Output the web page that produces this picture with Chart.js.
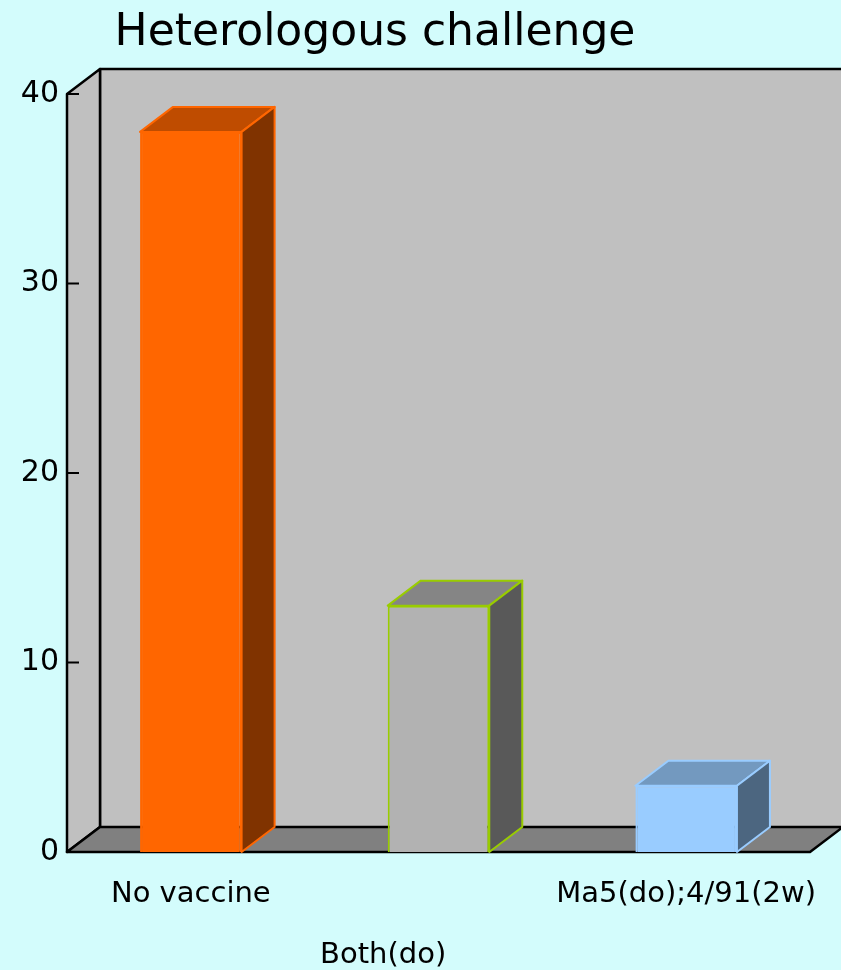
<!DOCTYPE html>
<html lang="en">
<head>
  <meta charset="UTF-8" />
  <title>Heterologous challenge</title>
  <script src="https://cdn.jsdelivr.net/npm/chart.js"></script>
  <style>
    html, body {
      margin: 0;
      padding: 0;
      background: #d3fcfc;
    }
    #wrap {
      width: 841px;
      height: 970px;
    }
  </style>
</head>
<body>
  <div id="wrap">
    <canvas id="chart"></canvas>
  </div>

  <script>
    const categories = ['No vaccine', 'Both(do)', 'Ma5(do);4/91(2w)'];
    const values = [38, 13, 3.5];
    const yTicks = [0, 10, 20, 30, 40];

    const FONT = "'Comic Sans MS', 'DejaVu Sans', sans-serif";
    const DX = 33, DY = -25;   // depth of the 3d box

    const faceColors = ['#ff6600', '#b2b2b2', '#99ccff'];
    const edgeColors = ['#ff6600', '#99cc00', '#99ccff'];
    const topColors  = ['#bf4c00', '#858585', '#7399bf'];
    const sideColors = ['#803300', '#595959', '#4c6680'];

    function poly(ctx, pts, fill, stroke, lw) {
      ctx.beginPath();
      ctx.moveTo(pts[0][0], pts[0][1]);
      for (let i = 1; i < pts.length; i++) ctx.lineTo(pts[i][0], pts[i][1]);
      ctx.closePath();
      if (fill) { ctx.fillStyle = fill; ctx.fill(); }
      if (stroke) { ctx.strokeStyle = stroke; ctx.lineWidth = lw; ctx.stroke(); }
    }

    // walls, floor, bar tops/sides and the title
    const box3d = {
      id: 'box3d',
      beforeDraw(chart) {
        const { ctx, chartArea: a } = chart;
        const y = chart.scales.y;
        ctx.save();
        ctx.lineJoin = 'round';
        // back wall
        ctx.fillStyle = '#c0c0c0';
        ctx.fillRect(a.left + DX, a.top + DY, chart.width - a.left - DX, a.bottom - a.top);
        ctx.beginPath();
        ctx.moveTo(a.left + DX, a.bottom + DY);
        ctx.lineTo(a.left + DX, a.top + DY);
        ctx.lineTo(chart.width, a.top + DY);
        ctx.strokeStyle = '#000';
        ctx.lineWidth = 2.5;
        ctx.stroke();
        // side wall
        poly(ctx, [[a.left, a.bottom], [a.left, a.top], [a.left + DX, a.top + DY], [a.left + DX, a.bottom + DY]],
          '#c0c0c0', '#000', 2.5);
        // floor
        poly(ctx, [[a.left, a.bottom], [a.right, a.bottom], [a.right + DX, a.bottom + DY], [a.left + DX, a.bottom + DY]],
          '#808080', '#000', 2.5);
        // tick marks on the side wall
        ctx.beginPath();
        yTicks.forEach(v => {
          const py = y.getPixelForValue(v);
          ctx.moveTo(a.left, py);
          ctx.lineTo(a.left + 12, py);
        });
        ctx.lineWidth = 2;
        ctx.stroke();
        ctx.restore();
      },
      afterDatasetsDraw(chart) {
        const { ctx } = chart;
        const meta = chart.getDatasetMeta(0);
        ctx.save();
        ctx.lineJoin = 'round';
        meta.data.forEach((bar, i) => {
          const p = bar.getProps(['x', 'y', 'base', 'width'], true);
          const l = p.x - p.width / 2, r = p.x + p.width / 2;
          poly(ctx, [[l, p.y], [l + DX, p.y + DY], [r + DX, p.y + DY], [r, p.y]], topColors[i], edgeColors[i], 2);
          poly(ctx, [[r, p.y], [r + DX, p.y + DY], [r + DX, p.base + DY], [r, p.base]], sideColors[i], edgeColors[i], 2);
        });
        ctx.restore();
      },
      afterDraw(chart) {
        const { ctx } = chart;
        ctx.save();
        ctx.font = '44px ' + FONT;
        ctx.fillStyle = '#000';
        ctx.textAlign = 'center';
        ctx.textBaseline = 'middle';
        ctx.fillText('Heterologous challenge', 375, 34);
        ctx.restore();
      }
    };

    // middle category sits one line lower and a little to the left
    const labels = categories.map((c, i) => i % 2 ? ['', c + ' '.repeat(12)] : c);

    new Chart(document.getElementById('chart'), {
      type: 'bar',
      data: {
        labels: labels,
        datasets: [{
          data: values,
          backgroundColor: faceColors,
          borderColor: edgeColors,
          borderWidth: 2,
          barPercentage: 0.41,
          categoryPercentage: 1
        }]
      },
      options: {
        responsive: true,
        maintainAspectRatio: false,
        animation: false,
        layout: { padding: { top: 94, right: 31, left: 0, bottom: 0 } },
        plugins: {
          legend: { display: false },
          title: { display: false },
          tooltip: { enabled: false }
        },
        scales: {
          x: {
            grid: { display: false },
            border: { display: false },
            ticks: {
              color: '#000',
              padding: 4,
              maxRotation: 0,
              autoSkip: false,
              font: { family: FONT, size: 29, lineHeight: 2.1 }
            },
            afterFit(s) { s.height = 118; }
          },
          y: {
            min: 0,
            max: 40,
            grid: { display: false },
            border: { display: false },
            afterBuildTicks(s) { s.ticks = yTicks.map(v => ({ value: v })); },
            ticks: {
              color: '#000',
              padding: 0,
              font: { family: FONT, size: 30 }
            },
            afterFit(s) { s.width = 67; }
          }
        }
      },
      plugins: [box3d]
    });
  </script>
</body>
</html>
